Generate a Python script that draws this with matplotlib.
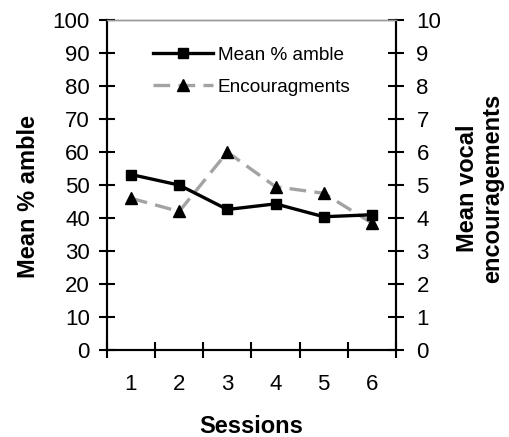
import matplotlib
matplotlib.use('Agg')
from matplotlib import pyplot as plt
from matplotlib.ticker import FixedLocator

plt.rcParams['font.family'] = ['Liberation Sans', 'DejaVu Sans']

# data
sessions = [1, 2, 3, 4, 5, 6]
amble = [53.2, 50.0, 42.6, 44.3, 40.4, 41.0]          # mean % amble (left axis)
encour = [4.6, 4.2, 6.0, 4.95, 4.75, 3.85]            # mean vocal encouragements (right axis)
yticks_left = [0, 10, 20, 30, 40, 50, 60, 70, 80, 90, 100]
yticks_right = [0, 1, 2, 3, 4, 5, 6, 7, 8, 9, 10]

fig = plt.figure(figsize=(5.09, 4.37), dpi=100)
ax = fig.add_axes([0.21, 0.199, 0.568, 0.755])
ax2 = ax.twinx()

l1, = ax.plot(sessions, amble, color='black', lw=2.4, marker='s', ms=7,
              label='Mean % amble', zorder=3)
l2, = ax2.plot(sessions, encour, color='#a3a3a3', lw=2.4, ls=(0, (5, 2.5)),
               marker='^', ms=8.5, mfc='black', mec='black',
               label='Encouragments', zorder=2)
ax.set_zorder(ax2.get_zorder() + 1)
ax.patch.set_visible(False)

ax.set_xlim(0.5, 6.5)
ax.set_ylim(0, 100)
ax2.set_ylim(0, 10)
ax.set_yticks(yticks_left)
ax2.set_yticks(yticks_right)
ax.set_xticks(sessions)
ax.xaxis.set_minor_locator(FixedLocator([0.5, 1.5, 2.5, 3.5, 4.5, 5.5, 6.5]))

ax.tick_params(axis='x', which='major', length=0, labelsize=16, pad=17)
ax.tick_params(axis='x', which='minor', direction='inout', length=11.5, width=1.5)
ax.tick_params(axis='y', direction='inout', length=11.5, width=1.5, labelsize=16, pad=6.5)
ax2.tick_params(axis='y', direction='inout', length=11.5, width=1.5, labelsize=16, pad=9)

for a in (ax, ax2):
    a.spines['top'].set_color('#999999')
    a.spines['top'].set_linewidth(1)
    for s in ('left', 'right', 'bottom'):
        a.spines[s].set_linewidth(1.5)

ax.set_xlabel('Sessions', fontsize=17, fontweight='bold')
ax.xaxis.set_label_coords(0.5, -0.233)
ax.xaxis.label.set_va('center')
ax.set_ylabel('Mean % amble', fontsize=17, fontweight='bold')
ax.yaxis.set_label_coords(-0.27, 0.465)
ax.yaxis.label.set_va('center')
ax2.set_ylabel('Mean vocal\nencouragements', fontsize=17, fontweight='bold',
               rotation=90, linespacing=1.1)
ax2.yaxis.set_label_coords(1.29, 0.49)
ax2.yaxis.label.set_va('center')

leg = ax.legend([l1, l2], ['Mean % amble', 'Encouragments'], loc='upper left',
                bbox_to_anchor=(0.159, 0.92), frameon=False, fontsize=13.7,
                borderpad=0, borderaxespad=0,
                handlelength=3.15, handletextpad=0.26, labelspacing=0.78)

fig.savefig('out.png', dpi=100)
